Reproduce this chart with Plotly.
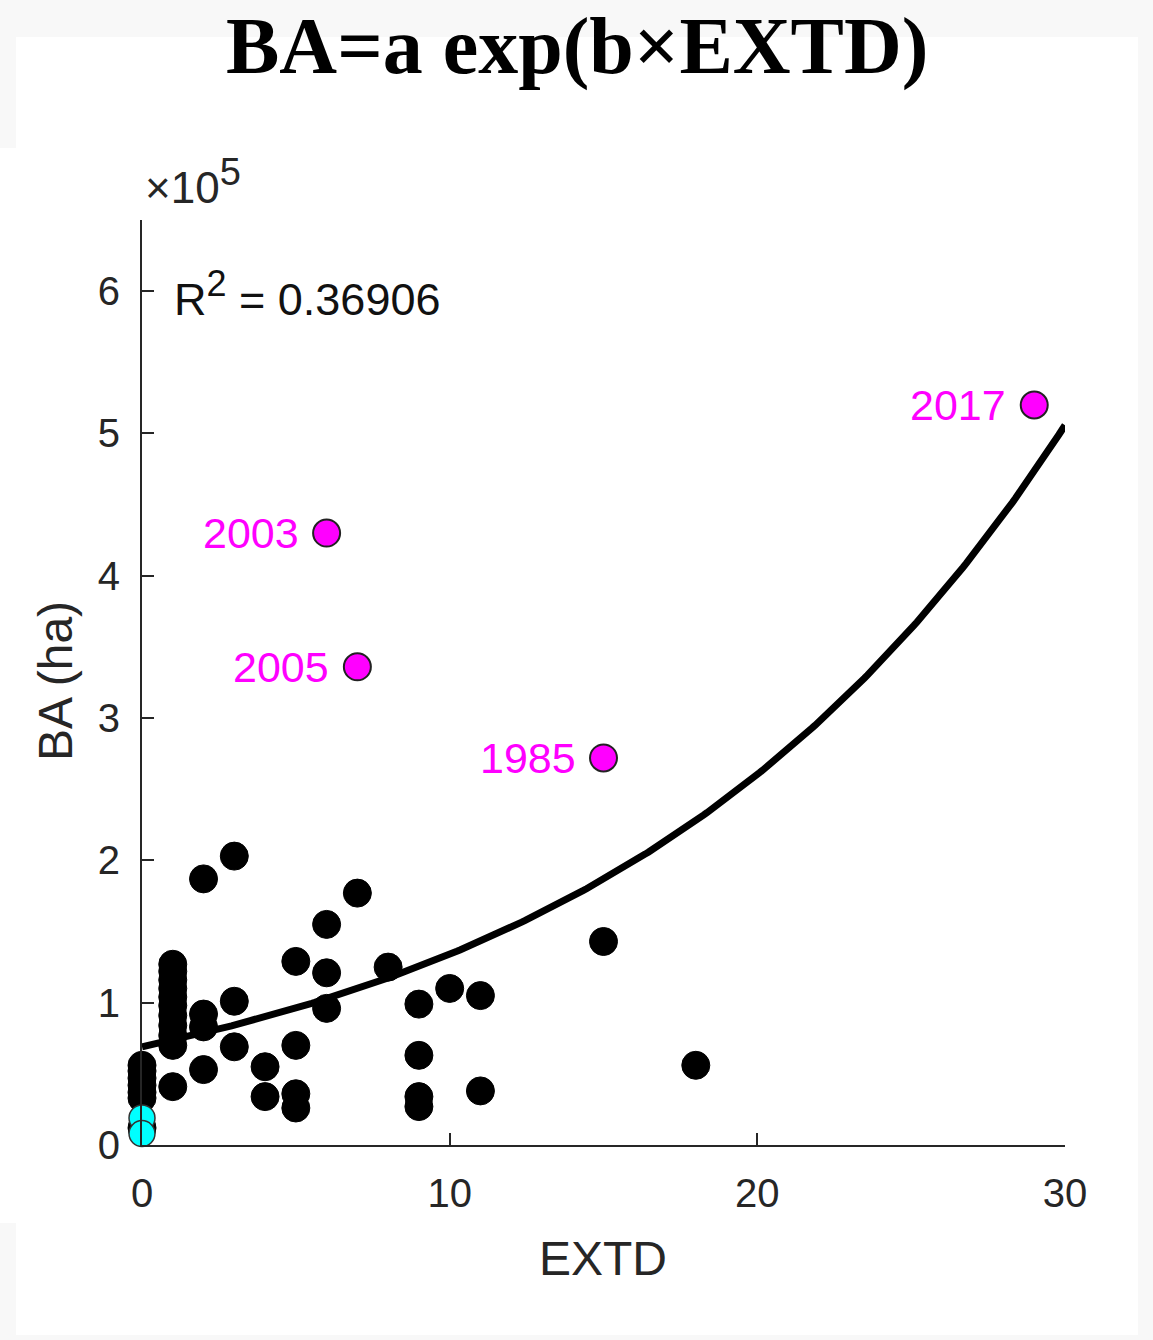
import numpy as np
import plotly.graph_objects as go

# ---------------- data (BA in units of 1e5 ha) ----------------
extd_black = [0, 0, 0, 0, 0, 0, 0,
              1, 1, 1, 1, 1, 1, 1, 1, 1, 1, 1,
              2, 2, 2, 2,
              3, 3, 3,
              4, 4,
              5, 5, 5, 5,
              6, 6, 6,
              7, 8,
              9, 9, 9, 9,
              10, 11, 11, 15, 18]
ba_black = [0.56, 0.52, 0.47, 0.42, 0.37, 0.33, 0.12,
            1.27, 1.22, 1.16, 1.10, 1.04, 0.98, 0.91, 0.84, 0.77, 0.70, 0.41,
            1.87, 0.92, 0.83, 0.53,
            2.03, 1.01, 0.69,
            0.55, 0.34,
            1.29, 0.70, 0.36, 0.26,
            1.55, 1.21, 0.96,
            1.77, 1.25,
            0.99, 0.63, 0.34, 0.27,
            1.10, 1.05, 0.38, 1.43, 0.56]

extd_cyan = [0, 0]
ba_cyan = [0.19, 0.08]

extd_mag = [15, 6, 7, 29]
ba_mag = [2.72, 4.30, 3.36, 5.20]
year_mag = ["1985", "2003", "2005", "2017"]

fit_a = 0.69     # x1e5 ha
fit_b = 0.0664
r2_text = "R<sup><span style='font-size:36px'>2</span></sup> = 0.36906"

x_ticks = [0, 10, 20, 30]
y_ticks = [0, 1, 2, 3, 4, 5, 6]

# ---------------- layout geometry ----------------
W, H = 1153, 1340
L, R, T, B = 142, 88, 220, 195
pw, ph = W - L - R, H - T - B


def px(xp):
    return (xp - L) / pw


def py(yp):
    return (H - B - yp) / ph


fig = go.Figure()

fit_x = np.linspace(0, 30, 300)
fit_y = fit_a * np.exp(fit_b * fit_x)

fig.add_trace(go.Scatter(x=extd_black, y=ba_black, mode="markers",
                         cliponaxis=False,
                         marker=dict(size=28, color="black",
                                     line=dict(color="black", width=1)),
                         showlegend=False))
fig.add_trace(go.Scatter(x=fit_x, y=fit_y, mode="lines",
                         line=dict(color="black", width=7),
                         showlegend=False))
fig.add_trace(go.Scatter(x=extd_cyan, y=ba_cyan, mode="markers",
                         cliponaxis=False,
                         marker=dict(size=26, color="#00ffff",
                                     line=dict(color="#333333", width=1.5)),
                         showlegend=False))
fig.add_trace(go.Scatter(x=extd_mag, y=ba_mag, mode="markers",
                         cliponaxis=False,
                         marker=dict(size=27, color="#ff00ff",
                                     line=dict(color="#222222", width=2)),
                         showlegend=False))

annotations = []
for xv, yv, t in zip(extd_mag, ba_mag, year_mag):
    annotations.append(dict(x=xv, y=yv, xref="x", yref="y", text=t,
                            showarrow=False, xanchor="right", yanchor="middle",
                            xshift=-26, font=dict(size=43, color="#ff00ff",
                                                  family="Liberation Sans, Arial")))

annotations += [
    dict(x=px(577), y=py(47), xref="paper", yref="paper",
         text="<b>BA=a exp(b×EXTD)</b>", showarrow=False,
         xanchor="center", yanchor="middle",
         font=dict(size=80, color="black", family="Liberation Serif, Times New Roman")),
    dict(x=px(143), y=py(214), xref="paper", yref="paper",
         text="×10<sup><span style='font-size:38px'>5</span></sup>", showarrow=False,
         xanchor="left", yanchor="bottom",
         font=dict(size=44, color="#262626", family="Liberation Sans, Arial")),
    dict(x=px(172), y=py(294), xref="paper", yref="paper",
         text=r2_text, showarrow=False, xanchor="left", yanchor="middle",
         font=dict(size=45, color="#111111", family="Liberation Sans, Arial")),
    dict(x=px(603), y=py(1258), xref="paper", yref="paper",
         text="EXTD", showarrow=False, xanchor="center", yanchor="middle",
         font=dict(size=48, color="#262626", family="Liberation Sans, Arial")),
    dict(x=px(55), y=py(681), xref="paper", yref="paper",
         text="BA (ha)", showarrow=False, xanchor="center", yanchor="middle",
         textangle=-90,
         font=dict(size=48, color="#262626", family="Liberation Sans, Arial")),
]

shapes = [
    dict(type="rect", xref="paper", yref="paper", layer="below",
         x0=px(16), x1=px(1138), y0=py(37), y1=py(1335),
         fillcolor="white", line=dict(width=0)),
    dict(type="rect", xref="paper", yref="paper", layer="below",
         x0=px(0), x1=px(16), y0=py(148), y1=py(1223),
         fillcolor="white", line=dict(width=0)),
]

axis_font = dict(size=40, color="#262626", family="Liberation Sans, Arial")

fig.update_layout(
    width=W, height=H,
    margin=dict(l=L, r=R, t=T, b=B),
    paper_bgcolor="#f8f8f8",
    plot_bgcolor="white",
    annotations=annotations,
    shapes=shapes,
    xaxis=dict(range=[0, 30], tickvals=x_ticks, ticks="inside", ticklen=12,
               tickwidth=2, tickcolor="#262626", showline=True, linewidth=2,
               linecolor="#262626", showgrid=False, zeroline=False,
               tickfont=axis_font, ticklabelstandoff=12),
    yaxis=dict(range=[0, 6.5], tickvals=y_ticks, ticks="inside", ticklen=12,
               tickwidth=2, tickcolor="#262626", showline=True, linewidth=2,
               linecolor="#262626", showgrid=False, zeroline=False,
               tickfont=axis_font, ticklabelstandoff=12),
)

fig.write_html("out.html")
